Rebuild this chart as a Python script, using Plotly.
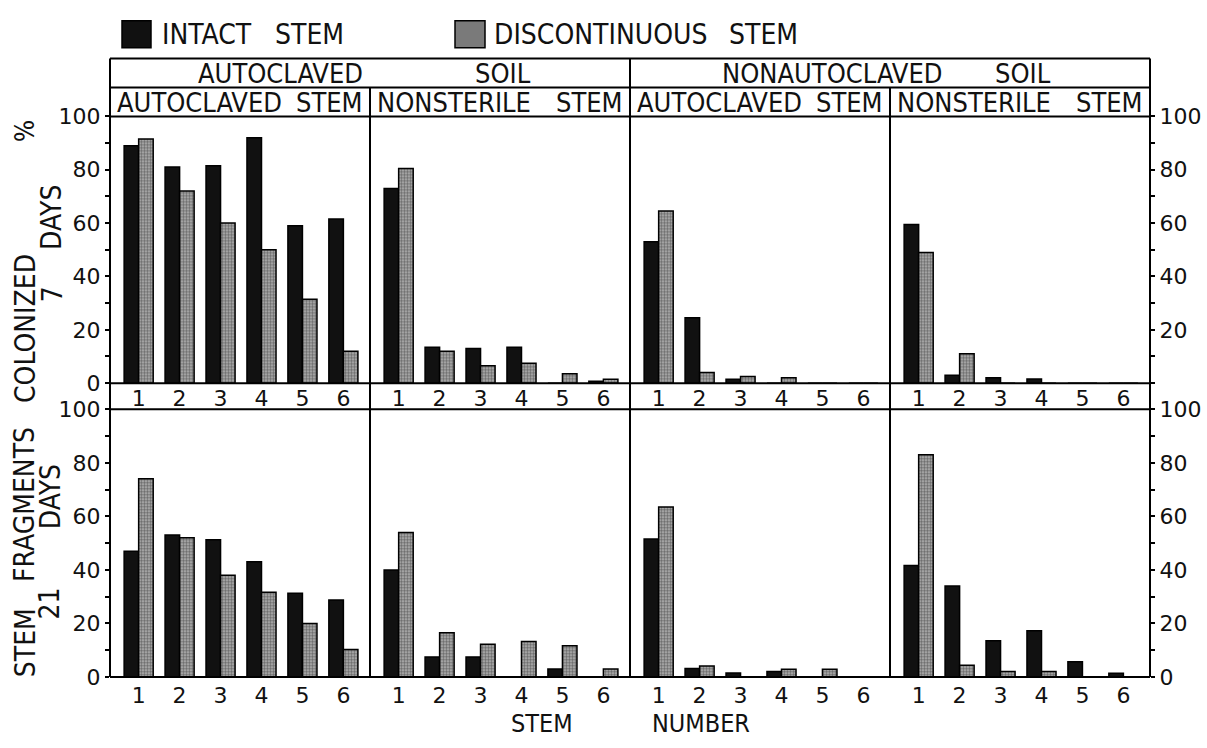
import plotly.graph_objects as go

# ---------------- data ----------------
stem_numbers = [1, 2, 3, 4, 5, 6]
series_names = ["INTACT STEM", "DISCONTINUOUS STEM"]
soil_labels = ["AUTOCLAVED SOIL", "NONAUTOCLAVED SOIL"]
stem_labels = ["AUTOCLAVED STEM", "NONSTERILE STEM", "AUTOCLAVED STEM", "NONSTERILE STEM"]
y_ticks = [0, 20, 40, 60, 80, 100]

# 7 days (% stem fragments colonized)
intact_7d_autosoil_autostem = [89, 81, 81.5, 92, 59, 61.5]
disc_7d_autosoil_autostem = [91.5, 72, 60, 50, 31.5, 12]
intact_7d_autosoil_nsstem = [73, 13.5, 13, 13.5, 0, 0.7]
disc_7d_autosoil_nsstem = [80.5, 12, 6.5, 7.5, 3.5, 1.5]
intact_7d_nonauto_autostem = [53, 24.5, 1.5, 0, 0, 0]
disc_7d_nonauto_autostem = [64.5, 4, 2.5, 2, 0, 0]
intact_7d_nonauto_nsstem = [59.5, 3, 2, 1.6, 0, 0]
disc_7d_nonauto_nsstem = [49, 11, 0, 0, 0, 0]

# 21 days
intact_21d_autosoil_autostem = [47, 53, 51.3, 43, 31.3, 28.8]
disc_21d_autosoil_autostem = [74, 52, 38, 31.7, 20, 10.3]
intact_21d_autosoil_nsstem = [40, 7.5, 7.5, 0, 3, 0]
disc_21d_autosoil_nsstem = [54, 16.5, 12.2, 13.3, 11.7, 3]
intact_21d_nonauto_autostem = [51.5, 3.2, 1.5, 2.1, 0, 0]
disc_21d_nonauto_autostem = [63.5, 4.1, 0, 2.9, 2.9, 0]
intact_21d_nonauto_nsstem = [41.6, 34, 13.5, 17.3, 5.7, 1.4]
disc_21d_nonauto_nsstem = [83, 4.4, 2.1, 2.1, 0, 0]

panels = [
    [(intact_7d_autosoil_autostem, disc_7d_autosoil_autostem),
     (intact_7d_autosoil_nsstem, disc_7d_autosoil_nsstem),
     (intact_7d_nonauto_autostem, disc_7d_nonauto_autostem),
     (intact_7d_nonauto_nsstem, disc_7d_nonauto_nsstem)],
    [(intact_21d_autosoil_autostem, disc_21d_autosoil_autostem),
     (intact_21d_autosoil_nsstem, disc_21d_autosoil_nsstem),
     (intact_21d_nonauto_autostem, disc_21d_nonauto_autostem),
     (intact_21d_nonauto_nsstem, disc_21d_nonauto_nsstem)],
]

# ---------------- layout helpers ----------------
W, H = 1207, 748
def fx(x):
    return x / W
def fy(y):
    return 1 - y / H

LBL = "Liberation Sans Narrow, DejaVu Sans Condensed, Roboto Condensed, Liberation Sans, sans-serif"
NUM = "DejaVu Sans, Liberation Sans, sans-serif"

cols = [(110, 370), (370, 630), (630, 890), (890, 1150)]
rows = [(108, 384), (411, 688)]

fig = go.Figure()
layout = dict(
    width=W, height=H, autosize=False,
    margin=dict(l=0, r=0, t=0, b=0, pad=0),
    paper_bgcolor="white", plot_bgcolor="white",
    barmode="group", bargap=0.29, bargroupgap=0,
    showlegend=False,
)

for r, (y0, y1) in enumerate(rows):
    for c, (x0, x1) in enumerate(cols):
        k = r * 4 + c + 1
        xa = "x" if k == 1 else f"x{k}"
        ya = "y" if k == 1 else f"y{k}"
        intact, disc = panels[r][c]
        fig.add_trace(go.Bar(
            x=stem_numbers, y=intact, name=series_names[0], xaxis=xa, yaxis=ya,
            marker=dict(color="#111111", line=dict(color="black", width=1.5)),
            offsetgroup="a",
        ))
        fig.add_trace(go.Bar(
            x=stem_numbers, y=disc, name=series_names[1], xaxis=xa, yaxis=ya,
            marker=dict(color="#a0a0a0", line=dict(color="black", width=1.5),
                        pattern=dict(shape=".", fgcolor="#1a1a1a", bgcolor="#b8b8b8",
                                     size=3, solidity=0.55)),
            offsetgroup="b",
        ))
        xkey = "xaxis" if k == 1 else f"xaxis{k}"
        ykey = "yaxis" if k == 1 else f"yaxis{k}"
        layout[xkey] = dict(
            domain=[fx(x0), fx(x1)], range=[0.3, 6.65], anchor=ya,
            tickmode="array", tickvals=stem_numbers,
            ticktext=[str(v) for v in stem_numbers],
            ticks="", showline=False, showgrid=False, zeroline=False,
            tickfont=dict(family=NUM, size=22, color="#111"),
            ticklabelstandoff=(0 if r == 0 else 3),
            fixedrange=True,
        )
        yd = dict(
            domain=[fy(y1), fy(y0)], range=[0, 100], anchor=xa,
            showgrid=False, zeroline=False, showline=False, fixedrange=True,
            tickfont=dict(family=NUM, size=22, color="#111"),
        )
        if c == 0:
            yd.update(side="left", tickmode="array", tickvals=y_ticks,
                      ticks="outside", ticklen=4, tickwidth=1.5, tickcolor="black",
                      minor=dict(dtick=10, ticks="outside", ticklen=4, tickwidth=1.5, tickcolor="black"))
        elif c == 3:
            tv = y_ticks[1:] if r == 0 else y_ticks
            yd.update(side="right", tickmode="array", tickvals=tv,
                      ticks="outside", ticklen=4, tickwidth=1.5, tickcolor="black",
                      minor=dict(dtick=10, ticks="outside", ticklen=4, tickwidth=1.5, tickcolor="black"))
        else:
            yd.update(showticklabels=False, ticks="")
        layout[ykey] = yd

fig.update_layout(**layout)

# ---------------- frame lines ----------------
LW = 2
shapes = []
def hline(y, xa, xb):
    shapes.append(dict(type="line", xref="paper", yref="paper",
                       x0=fx(xa), x1=fx(xb), y0=fy(y), y1=fy(y),
                       line=dict(color="black", width=LW)))
def vline(x, ya, yb):
    shapes.append(dict(type="line", xref="paper", yref="paper",
                       x0=fx(x), x1=fx(x), y0=fy(ya), y1=fy(yb),
                       line=dict(color="black", width=LW)))

for y in (48, 78, 108, 384, 411, 688):
    hline(y, 110, 1150)
vline(110, 48, 688)
vline(1150, 48, 688)
vline(630, 48, 688)
vline(370, 78, 688)
vline(890, 78, 688)

# legend swatches
shapes.append(dict(type="rect", xref="paper", yref="paper",
                   x0=fx(122), x1=fx(151), y0=fy(37), y1=fy(9),
                   fillcolor="#111111", line=dict(color="black", width=1.5)))
shapes.append(dict(type="rect", xref="paper", yref="paper",
                   x0=fx(455), x1=fx(485), y0=fy(37), y1=fy(9),
                   fillcolor="#7a7a7a", line=dict(color="black", width=1.5)))
fig.update_layout(shapes=shapes)

# ---------------- text ----------------
anns = []
def text(t, x, y, size=26, angle=0, xanchor="center", font=LBL):
    anns.append(dict(text=t, x=fx(x), y=fy(y), xref="paper", yref="paper",
                     showarrow=False, xanchor=xanchor, yanchor="middle",
                     textangle=angle, font=dict(family=font, size=size, color="#111")))

# legend text
text("INTACT", 160, 23, size=28, xanchor="left")
text("STEM", 346, 23, size=28, xanchor="right")
text("DISCONTINUOUS", 492, 23, size=28, xanchor="left")
text("STEM", 800, 23, size=28, xanchor="right")

# header row 1
text("AUTOCLAVED", 280, 64, size=27)
text("SOIL", 503, 64, size=27)
text("NONAUTOCLAVED", 832, 64, size=27)
text("SOIL", 1023, 64, size=27)

# header row 2
for (x0, x1), lab in zip(cols, stem_labels):
    w1, w2 = lab.split(" ")
    text(w1, x0 + 5, 94, size=27, xanchor="left")
    text(w2, x1 - 5, 94, size=27, xanchor="right")

# y-axis titles (rotated)
text("%", 25, 123, size=26, angle=-90)
text("COLONIZED", 25, 328, size=28, angle=-90)
text("DAYS", 52, 213, size=28, angle=-90)
text("7", 52, 292, size=28, angle=-90)
text("FRAGMENTS", 25, 510, size=28, angle=-90)
text("DAYS", 50, 502, size=28, angle=-90)
text("21", 50, 612, size=28, angle=-90)
text("STEM", 25, 653, size=28, angle=-90)

# x-axis title
text("STEM", 542, 736, size=25)
text("NUMBER", 701, 736, size=25)

fig.update_layout(annotations=anns)
fig.write_html("out.html", default_width="1207px", default_height="748px",
               post_script="document.body.style.margin='0';")
